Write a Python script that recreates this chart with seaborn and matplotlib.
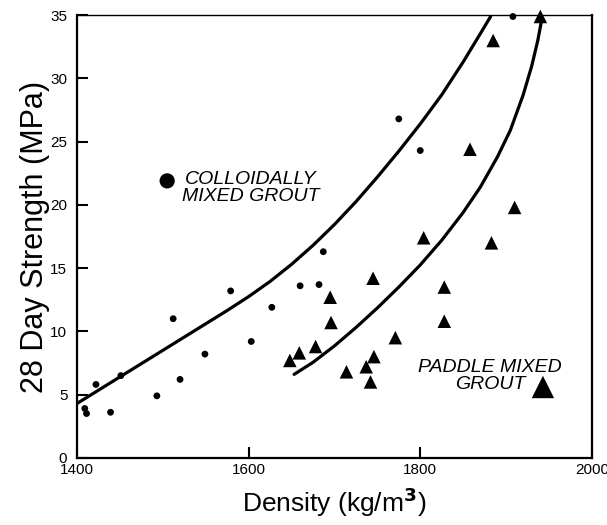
import numpy as np
import pandas as pd
import matplotlib
matplotlib.use("Agg")
import matplotlib.pyplot as plt
import seaborn as sns

# colloidally mixed grout (dots)
coll_density = [1409, 1411, 1422, 1439, 1451, 1493, 1512, 1520, 1549, 1579,
                1603, 1627, 1660, 1682, 1687, 1775, 1800, 1908]
coll_strength = [3.9, 3.5, 5.8, 3.6, 6.5, 4.9, 11.0, 6.2, 8.2, 13.2,
                 9.2, 11.9, 13.6, 13.7, 16.3, 26.8, 24.3, 34.9]

# paddle mixed grout (triangles)
pad_density = [1648, 1659, 1678, 1695, 1696, 1714, 1737, 1742, 1745, 1746,
               1771, 1804, 1828, 1828, 1858, 1883, 1885, 1910, 1940]
pad_strength = [7.7, 8.3, 8.8, 12.7, 10.7, 6.8, 7.2, 6.0, 14.2, 8.0,
                9.5, 17.4, 13.5, 10.8, 24.4, 17.0, 33.0, 19.8, 34.9]

# trend curves
coll_curve_x = [1400, 1425, 1450, 1475, 1500, 1525, 1550, 1575, 1600, 1625, 1650,
                1675, 1700, 1725, 1750, 1775, 1800, 1825, 1850, 1875, 1882]
coll_curve_y = [4.3, 5.35, 6.4, 7.45, 8.5, 9.55, 10.6, 11.65, 12.75, 13.95, 15.3,
                16.8, 18.45, 20.25, 22.2, 24.25, 26.4, 28.7, 31.3, 34.1, 34.9]
pad_curve_x = [1653, 1675, 1700, 1725, 1750, 1775, 1800, 1825, 1850, 1870,
               1890, 1905, 1920, 1930, 1937, 1942]
pad_curve_y = [6.6, 7.55, 8.85, 10.3, 11.85, 13.5, 15.25, 17.2, 19.4, 21.4,
               23.8, 25.9, 28.7, 31.0, 33.0, 34.8]

sns.set_style("ticks")
plt.rcParams['font.family'] = ['Liberation Sans', 'DejaVu Sans']
plt.rcParams['text.color'] = 'black'
plt.rcParams['axes.labelcolor'] = 'black'
plt.rcParams['axes.axisbelow'] = False

fig = plt.figure(figsize=(6.07, 5.25), dpi=100)
ax = fig.add_axes([0.127, 0.128, 0.848, 0.843])

sns.lineplot(x=coll_curve_x, y=coll_curve_y, color="black", lw=2.3, sort=False, ax=ax)
sns.lineplot(x=pad_curve_x, y=pad_curve_y, color="black", lw=2.3, sort=False, ax=ax)
sns.scatterplot(x=coll_density, y=coll_strength, color="black", marker="o",
                s=24, edgecolor="none", ax=ax, clip_on=False, zorder=5)
sns.scatterplot(x=pad_density, y=pad_strength, color="black", marker="^",
                s=95, edgecolor="none", ax=ax, clip_on=False, zorder=5)

# legend-like labels
ax.scatter([1505], [21.9], s=120, color="black", marker="o", edgecolor="none")
ax.text(1602, 21.3, "COLLOIDALLY\nMIXED GROUT", style="italic", fontsize=14,
        ha="center", va="center", multialignment="center", linespacing=1.0)
ax.scatter([1943], [5.6], s=260, color="black", marker="^", edgecolor="none")
ax.text(1881, 6.45, "PADDLE MIXED\nGROUT", style="italic", fontsize=14,
        ha="center", va="center", multialignment="center", linespacing=1.0)

ax.set_xlim(1400, 2000)
ax.set_ylim(0, 35)
ax.set_xticks([1400, 1600, 1800, 2000])
ax.set_yticks(range(0, 36, 5))
ax.set_xlabel("Density (kg/m$^\\mathbf{3}$)", fontsize=19, labelpad=6)
ax.set_ylabel("28 Day Strength (MPa)", fontsize=22, labelpad=0)

for side in ["left", "bottom", "right"]:
    ax.spines[side].set_visible(True)
    ax.spines[side].set_linewidth(1.6)
    ax.spines[side].set_color("black")
ax.spines["top"].set_visible(True)
ax.spines["top"].set_linewidth(1.0)
ax.spines["top"].set_color("black")

# inward ticks on left and bottom only
ax.tick_params(axis="both", which="major", direction="in", length=8, width=1.5,
               color="black", labelcolor="black", labelsize=11,
               bottom=True, top=False, left=True, right=False)
ax.tick_params(axis="x", pad=4)
ax.tick_params(axis="y", pad=7)

fig.savefig("out.png", dpi=100)
